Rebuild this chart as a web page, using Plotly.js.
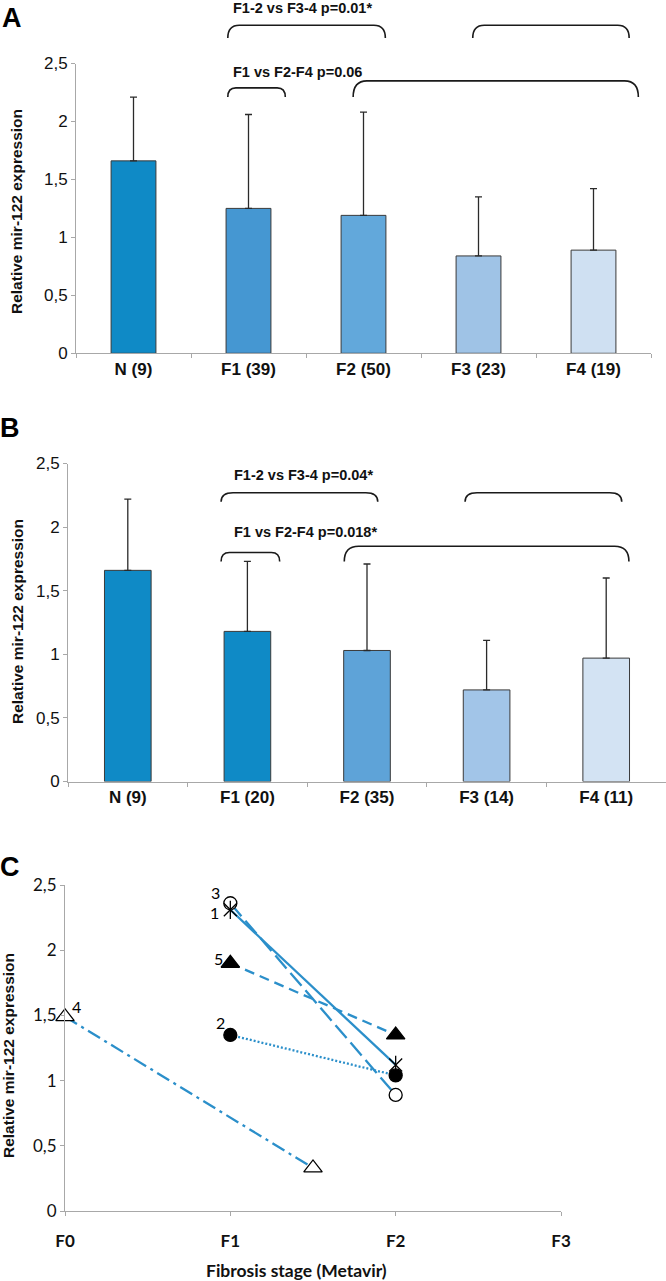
<!DOCTYPE html>
<html><head><meta charset="utf-8">
<script src="https://cdn.plot.ly/plotly-3.0.1.min.js"></script>
<style>html,body{margin:0;padding:0;background:#fff}#chart{width:666px;height:1281px}</style>
</head><body><div id="chart"></div>
<script>
// ---- Panel A data ----
const groupsA = ['N (9)', 'F1 (39)', 'F2 (50)', 'F3 (23)', 'F4 (19)'];
const meanA = [1.66, 1.25, 1.19, 0.84, 0.89];
const sdA = [0.55, 0.81, 0.89, 0.51, 0.53];
// ---- Panel B data ----
const groupsB = ['N (9)', 'F1 (20)', 'F2 (35)', 'F3 (14)', 'F4 (11)'];
const meanB = [1.66, 1.18, 1.03, 0.72, 0.97];
const sdB = [0.56, 0.55, 0.68, 0.39, 0.63];
// ---- Panel C data (paired patients) ----
const stageVals = [0, 1, 2, 3];
const stageLabels = ['F0', 'F1', 'F2', 'F3'];
const pat1x = [1, 2], pat1y = [2.31, 1.12];
const pat2x = [1, 2], pat2y = [1.35, 1.04];
const pat3x = [1, 2], pat3y = [2.36, 0.89];
const pat4x = [0, 1.5], pat4y = [1.49, 0.33];
const pat5x = [1, 2], pat5y = [1.90, 1.35];
const yTicks = [0, 0.5, 1, 1.5, 2, 2.5];

const colorsA = ['#0f8ac6', '#4597d2', '#62a8db', '#9fc3e6', '#cfe0f2'];
const colorsB = ['#0f8ac6', '#0f8ac6', '#5ea3d8', '#a2c5e8', '#d3e3f3'];
const lineBlue = '#2b8fca';
const FONT = 'Liberation Sans, Arial, sans-serif';
const FONTC = 'Lato, Liberation Sans, sans-serif';
const H = 1281, W = 666;

const domAx = [76 / W, 651 / W], domAy = [1 - 353.3 / H, 1 - 63.5 / H];
const domBx = [68 / W, 1.0], domBy = [1 - 781.5 / H, 1 - 463.5 / H];
const domCx = [65 / W, 561 / W], domCy = [1 - 1211 / H, 1 - 885 / H];
const pyA = v => domAy[0] + v / 2.5 * (domAy[1] - domAy[0]);

function bar(x, y, sd, colors, xa, ya) {
  return {
    type: 'bar', x: x, y: y, xaxis: xa, yaxis: ya, width: 0.39,
    marker: {color: colors, line: {color: '#3a3a3a', width: 1}},
    error_y: {type: 'data', symmetric: false, array: sd, arrayminus: sd.map(() => 0),
              color: '#2a2a2a', thickness: 1.3, width: 3.5},
    showlegend: false, hoverinfo: 'skip'
  };
}
function pat(x, y, dash, sym, fill, size) {
  return {
    type: 'scatter', mode: 'lines+markers', x: x, y: y, xaxis: 'x3', yaxis: 'y3',
    line: {color: lineBlue, width: 2.3, dash: dash},
    marker: {symbol: sym, size: size, color: fill, line: {color: '#000', width: 1.3}},
    showlegend: false, hoverinfo: 'skip', cliponaxis: false
  };
}

const traces = [
  bar(groupsA, meanA, sdA, colorsA, 'x', 'y'),
  bar(groupsB, meanB, sdB, colorsB, 'x2', 'y2'),
  pat(pat4x, pat4y, '14px,5px,3px,5px', 'triangle-up', '#fff', 16),
  pat(pat2x, pat2y, '2px,2px', 'circle', '#000', 13),
  pat(pat5x, pat5y, '10px,6px', 'triangle-up', '#000', 16),
  pat(pat3x, pat3y, '17px,6px', 'circle', '#fff', 13),
  pat(pat1x, pat1y, 'solid', 'x-thin-open', '#000', 13),
  {type: 'scatter', mode: 'markers', x: pat1x, y: pat1y, xaxis: 'x3', yaxis: 'y3',
   marker: {symbol: 'line-ns-open', size: 13, color: '#000', line: {color: '#000', width: 1.3}},
   showlegend: false, hoverinfo: 'skip', cliponaxis: false}
];

function bracket(x0, x1, yEnd, yTop, r) {
  return `M ${x0},${yEnd} Q ${x0},${yTop} ${x0 + r},${yTop} L ${x1 - r},${yTop} Q ${x1},${yTop} ${x1},${yEnd}`;
}
const bLine = {color: '#1a1a1a', width: 1.6};
const shapes = [
  {type: 'path', xref: 'x', yref: 'paper', path: bracket(0.82, 2.19, pyA(2.72), pyA(2.83), 0.1), line: bLine},
  {type: 'path', xref: 'x', yref: 'paper', path: bracket(2.95, 4.31, pyA(2.72), pyA(2.83), 0.1), line: bLine},
  {type: 'path', xref: 'x', yref: 'paper', path: bracket(0.82, 1.32, pyA(2.21), pyA(2.29), 0.07), line: bLine},
  {type: 'path', xref: 'x', yref: 'paper', path: bracket(1.91, 4.39, pyA(2.21), pyA(2.35), 0.12), line: bLine},
  {type: 'path', xref: 'x2', yref: 'y2', path: bracket(0.78, 2.09, 2.20, 2.27, 0.1), line: bLine},
  {type: 'path', xref: 'x2', yref: 'y2', path: bracket(2.82, 4.13, 2.20, 2.27, 0.1), line: bLine},
  {type: 'path', xref: 'x2', yref: 'y2', path: bracket(0.78, 1.27, 1.73, 1.80, 0.07), line: bLine},
  {type: 'path', xref: 'x2', yref: 'y2', path: bracket(1.81, 4.19, 1.73, 1.85, 0.12), line: bLine}
];

const annFont = {family: FONT, size: 14.5, color: '#111'};
const ytitleFont = {family: FONT, size: 15.5, color: '#111'};
const labFont = {family: FONTC, size: 16, color: '#000'};
function pa(x, y, text, font, extra) {
  return Object.assign({xref: 'paper', yref: 'paper', x: x / W, y: 1 - y / H, xanchor: 'center', yanchor: 'middle',
    text: text, showarrow: false, font: font}, extra || {});
}
const annotations = [
  pa(12, 17.5, '<b>A</b>', {family: FONT, size: 27, color: '#000'}),
  pa(10.5, 427.5, '<b>B</b>', {family: FONT, size: 27, color: '#000'}),
  pa(9.5, 867, '<b>C</b>', {family: FONT, size: 27, color: '#000'}),
  {xref: 'x', yref: 'paper', x: 0.85, y: pyA(2.98), xanchor: 'left', yanchor: 'middle', text: '<b>F1-2 vs F3-4 p=0.01*</b>', showarrow: false, font: annFont},
  {xref: 'x', yref: 'paper', x: 0.85, y: pyA(2.43), xanchor: 'left', yanchor: 'middle', text: '<b>F1 vs F2-F4 p=0.06</b>', showarrow: false, font: annFont},
  {xref: 'x2', yref: 'y2', x: 0.87, y: 2.41, xanchor: 'left', yanchor: 'middle', text: '<b>F1-2 vs F3-4 p=0.04*</b>', showarrow: false, font: annFont},
  {xref: 'x2', yref: 'y2', x: 0.87, y: 1.96, xanchor: 'left', yanchor: 'middle', text: '<b>F1 vs F2-F4 p=0.018*</b>', showarrow: false, font: annFont},
  pa(17, 212, '<b>Relative mir-122 expression</b>', ytitleFont, {textangle: -90}),
  pa(17, 622, '<b>Relative mir-122 expression</b>', ytitleFont, {textangle: -90}),
  pa(8, 1056, '<b>Relative mir-122 expression</b>', ytitleFont, {textangle: -90}),
  pa(296, 1270, '<b>Fibrosis stage (Metavir)</b>', {family: FONTC, size: 17.5, color: '#111'}),
  // patient numbers
  {xref: 'x3', yref: 'y3', x: pat3x[0], y: pat3y[0], xshift: -15, yshift: 11, text: '3', showarrow: false, font: labFont},
  {xref: 'x3', yref: 'y3', x: pat1x[0], y: pat1y[0], xshift: -16, yshift: -3, text: '1', showarrow: false, font: labFont},
  {xref: 'x3', yref: 'y3', x: pat5x[0], y: pat5y[0], xshift: -12, yshift: 5, text: '5', showarrow: false, font: labFont},
  {xref: 'x3', yref: 'y3', x: pat2x[0], y: pat2y[0], xshift: -10, yshift: 12, text: '2', showarrow: false, font: labFont},
  {xref: 'x3', yref: 'y3', x: pat4x[0], y: pat4y[0], xshift: 11, yshift: 10, text: '4', showarrow: false, font: labFont}
];

const axLine = '#a8a8a8';
const yCommon = {range: [0, 2.5], tickvals: yTicks, showline: true, linecolor: axLine, linewidth: 1,
  ticks: 'outside', ticklen: 4, tickcolor: axLine, showgrid: false, zeroline: false,
  tickfont: {family: FONT, size: 17, color: '#111'}, fixedrange: true};
const xCat = {type: 'category', range: [-0.5, 4.5], showline: true, linecolor: axLine, linewidth: 1,
  ticks: 'outside', ticklen: 4, tickcolor: axLine, tickson: 'boundaries', showgrid: false,
  tickfont: {family: FONT, size: 17, color: '#111', weight: 'bold'}, fixedrange: true};

const layout = {
  width: W, height: H, margin: {l: 0, r: 0, t: 0, b: 0}, paper_bgcolor: '#fff', plot_bgcolor: '#fff',
  separators: ', ', showlegend: false, bargap: 0.6,
  xaxis: Object.assign({}, xCat, {domain: domAx, anchor: 'y'}),
  yaxis: Object.assign({}, yCommon, {domain: domAy, anchor: 'x'}),
  xaxis2: Object.assign({}, xCat, {domain: domBx, anchor: 'y2'}),
  yaxis2: Object.assign({}, yCommon, {domain: domBy, anchor: 'x2'}),
  xaxis3: {domain: domCx, anchor: 'y3', range: [0, 3], tickvals: stageVals,
    ticktext: stageLabels.map(s => '<b>' + s + '</b>'),
    showline: true, linecolor: axLine, ticks: 'outside', ticklen: 4, tickcolor: axLine, showgrid: false,
    zeroline: false, ticklabelstandoff: 11, tickfont: {family: FONTC, size: 17, color: '#111'}, fixedrange: true},
  yaxis3: Object.assign({}, yCommon, {domain: domCy, anchor: 'x3', tickfont: {family: FONTC, size: 17, color: '#111'}}),
  shapes: shapes, annotations: annotations
};

Plotly.newPlot('chart', traces, layout, {staticPlot: true, displayModeBar: false});
</script></body></html>
